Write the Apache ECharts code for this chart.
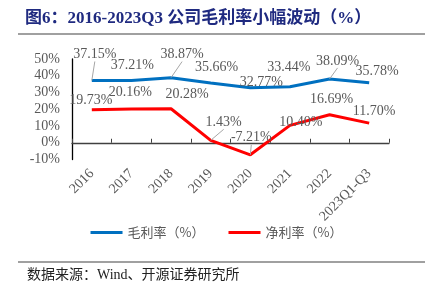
<!DOCTYPE html>
<html><head><meta charset="utf-8">
<script src="https://cdn.jsdelivr.net/npm/echarts@6/dist/echarts.min.js"></script>
<style>html,body{margin:0;padding:0;background:#fff}#c{width:433px;height:293px}</style>
</head><body><div id="c"></div>
<script>
var categories = ['2016','2017','2018','2019','2020','2021','2022','2023Q1-Q3'];
var grossMargin = [37.15, 37.21, 38.87, 35.66, 32.77, 33.44, 38.09, 35.78];
var netMargin = [19.73, 20.16, 20.28, 1.43, -7.21, 10.40, 16.69, 11.70];
var yTicks = [-10, 0, 10, 20, 30, 40, 50];
var seriesNames = ['毛利率（%）', '净利率（%）'];

// label nudges (layout only)
var grossLabelShift = [[3,-14],[1,-3],[11,-11],[6,-4],[11,7],[-1,-7],[8,-6],[8,1]];
var netLabelShift = [[-1,3],[-1,-5],[16,-2],[13,-6],[1,-5],[11,9],[2,-3],[5,0]];
var grossLeader = [true,false,true,false,false,false,true,false];
var netLeader = [false,false,false,true,true,false,false,false];

var serif = '"Liberation Serif","Times New Roman",serif';
var chart = echarts.init(document.getElementById('c'));
function mkData(vals, leaders){
  return vals.map(function(v,i){
    return leaders[i] ? {value: v} : {value: v, labelLine: {show: false}};
  });
}
function fmt(p){ return Number(p.value).toFixed(2) + '%'; }
chart.setOption({
  animation: false,
  title: {
    text: '图6：2016-2023Q3 公司毛利率小幅波动（%）',
    left: 20, top: 5,
    textStyle: {fontFamily: '"Liberation Serif","Noto Sans CJK SC",serif', fontSize: 17, fontWeight: 'bold', color: '#1f2a80'}
  },
  graphic: [
    {type: 'line', shape: {x1: 18, y1: 34, x2: 425, y2: 34}, style: {stroke: '#808080', lineWidth: 1.5}},
    {type: 'line', shape: {x1: 18, y1: 262, x2: 425, y2: 262}, style: {stroke: '#808080', lineWidth: 1.5}},
    {type: 'text', left: 27, top: 268, style: {text: '数据来源：Wind、开源证券研究所', font: '14px "Liberation Serif","Noto Sans CJK SC",serif', fill: '#222'}}
  ],
  legend: {
    bottom: 49, left: 'center', itemWidth: 32, itemHeight: 3, itemGap: 24,
    icon: 'rect',
    textStyle: {fontFamily: '"Noto Sans CJK SC",sans-serif', fontSize: 13, color: '#595959'},
    data: seriesNames
  },
  grid: {left: 72, right: 44, top: 59, bottom: 133.5, containLabel: false},
  xAxis: {
    type: 'category', data: categories, boundaryGap: true,
    axisLine: {onZero: true, lineStyle: {color: '#404040', width: 1.3}},
    axisTick: {show: true, inside: true, length: 4, lineStyle: {color: '#404040'}},
    axisLabel: {rotate: 45, margin: 12, fontFamily: serif, fontSize: 14, color: '#595959', interval: 0}
  },
  yAxis: {
    type: 'value', min: yTicks[0], max: yTicks[yTicks.length-1], interval: 10,
    splitLine: {show: false},
    axisLine: {show: true, lineStyle: {color: '#000', width: 1.3}},
    axisTick: {show: false},
    axisLabel: {formatter: '{value}%', fontFamily: serif, fontSize: 14, color: '#595959', margin: 12}
  },
  series: [
    {
      name: seriesNames[0], type: 'line', data: mkData(grossMargin, grossLeader),
      symbol: 'circle', symbolSize: 0.1, showSymbol: true,
      lineStyle: {color: '#0070c0', width: 3}, itemStyle: {color: '#0070c0'},
      label: {show: true, position: 'top', formatter: fmt, fontFamily: serif, fontSize: 14, color: '#595959'},
      labelLine: {show: true, lineStyle: {color: '#a6a6a6', width: 1}},
      labelLayout: function(p){ var s = grossLabelShift[p.dataIndex]; return {dx: s[0], dy: s[1]}; }
    },
    {
      name: seriesNames[1], type: 'line', data: mkData(netMargin, netLeader),
      symbol: 'circle', symbolSize: 0.1, showSymbol: true,
      lineStyle: {color: '#ff0000', width: 3}, itemStyle: {color: '#ff0000'},
      label: {show: true, position: 'top', formatter: fmt, fontFamily: serif, fontSize: 14, color: '#595959'},
      labelLine: {show: true, lineStyle: {color: '#a6a6a6', width: 1}},
      labelLayout: function(p){ var s = netLabelShift[p.dataIndex]; return {dx: s[0], dy: s[1]}; }
    }
  ]
});
</script></body></html>
